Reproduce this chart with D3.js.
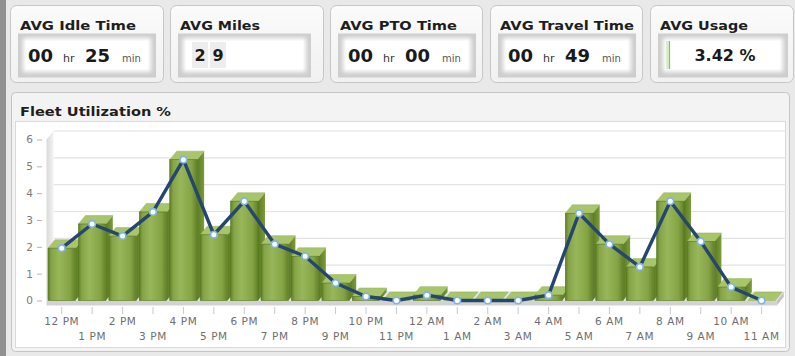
<!DOCTYPE html>
<html>
<head>
<meta charset="utf-8">
<script src="https://cdn.jsdelivr.net/npm/d3@7"></script>
<style>
  html, body { margin: 0; padding: 0; background: #e9e9e9; }
  svg { display: block; font-family: "DejaVu Sans", Verdana, sans-serif; }
</style>
</head>
<body>
<svg id="dash" width="795" height="356"></svg>
<script>
// ---- data ----
const hours = ["12 PM","1 PM","2 PM","3 PM","4 PM","5 PM","6 PM","7 PM","8 PM","9 PM","10 PM","11 PM",
               "12 AM","1 AM","2 AM","3 AM","4 AM","5 AM","6 AM","7 AM","8 AM","9 AM","10 AM","11 AM"];
const utilization = [1.95, 2.85, 2.4, 3.3, 5.25, 2.45, 3.7, 2.1, 1.65, 0.65, 0.15, 0,
                     0.2, 0, 0, 0, 0.2, 3.25, 2.1, 1.25, 3.7, 2.2, 0.5, 0];
const yTicks = [0, 1, 2, 3, 4, 5, 6];

const kpiTitles = ["AVG Idle Time", "AVG Miles", "AVG PTO Time", "AVG Travel Time", "AVG Usage"];
const kpiHours = [0, null, 0, 0, null];
const kpiMinutes = [25, null, 0, 49, null];
const avgMiles = 29;
const avgUsage = 3.42;

// ---- setup ----
const svg = d3.select("#dash");
const defs = svg.append("defs");
defs.append("filter").attr("id", "soft").attr("x", "-20%").attr("y", "-40%").attr("width", "140%").attr("height", "180%")
  .append("feGaussianBlur").attr("stdDeviation", 2.2);

const fg = defs.append("linearGradient").attr("id", "barFront").attr("x1", 0).attr("x2", 1).attr("y1", 0).attr("y2", 0);
[[0, "#5f7f27"], [0.12, "#84a446"], [0.4, "#98b75a"], [0.8, "#84a343"], [1, "#62822b"]]
  .forEach(([o, c]) => fg.append("stop").attr("offset", o).attr("stop-color", c));
const sg = defs.append("linearGradient").attr("id", "barSide").attr("x1", 0).attr("x2", 1).attr("y1", 0).attr("y2", 0);
[[0, "#5b7b20"], [1, "#7c9b3a"]].forEach(([o, c]) => sg.append("stop").attr("offset", o).attr("stop-color", c));
const wg = defs.append("linearGradient").attr("id", "wall").attr("x1", 0).attr("x2", 1);
[[0, "#d9d9d9"], [1, "#f3f3f3"]].forEach(([o, c]) => wg.append("stop").attr("offset", o).attr("stop-color", c));
const cg = defs.append("linearGradient").attr("id", "card").attr("x1", 0).attr("x2", 0).attr("y1", 0).attr("y2", 1);
[[0, "#fbfbfb"], [1, "#f1f1f1"]].forEach(([o, c]) => cg.append("stop").attr("offset", o).attr("stop-color", c));

// left dark frame strip
svg.append("rect").attr("x", 0).attr("y", 0).attr("width", 6).attr("height", 356).attr("fill", "#919191");

// ---- KPI cards ----
const cardX = [10, 170, 330, 490, 650];
const cardW = [153, 153, 152, 152, 143];
const titleW = [116, 80, 117, 134, 88];

kpiTitles.forEach((t, i) => {
  const g = svg.append("g").attr("transform", `translate(${cardX[i]},5)`);
  g.append("rect").attr("x", 0.5).attr("y", 0.5).attr("width", cardW[i]).attr("height", 77).attr("rx", 6)
    .attr("fill", "url(#card)").attr("stroke", "#c6c6c6");
  g.append("text").attr("x", 10).attr("y", 24.5).attr("font-size", 13).attr("font-weight", "bold")
    .attr("fill", "#1e1e1e").attr("textLength", titleW[i]).attr("lengthAdjust", "spacingAndGlyphs").text(t);
  // inset value field
  const bw = i === 4 ? 130 : (i === 1 ? 133 : 138);
  const bx = 8;
  g.append("rect").attr("x", bx).attr("y", 28.5).attr("width", bw).attr("height", 44).attr("fill", "#cdcdcd");
  g.append("rect").attr("x", bx + 5).attr("y", 33).attr("width", bw - 10).attr("height", 34)
    .attr("fill", "#ffffff").attr("filter", "url(#soft)");
  g.append("rect").attr("x", bx + 8).attr("y", 36).attr("width", bw - 16).attr("height", 28).attr("fill", "#ffffff");

  if (kpiHours[i] !== null) {
    const v = g.append("text").attr("x", bx + 10).attr("y", 56.5).attr("fill", "#1a1a1a");
    v.append("tspan").attr("font-size", 18).attr("font-weight", "bold").text(d3.format("02d")(kpiHours[i]));
    v.append("tspan").attr("x", bx + 45).attr("font-size", 11).attr("fill", "#333").text("hr");
    v.append("tspan").attr("x", bx + 67).attr("font-size", 18).attr("font-weight", "bold").text(d3.format("02d")(kpiMinutes[i]));
    v.append("tspan").attr("x", bx + 104).attr("font-size", 10).attr("fill", "#555").text("min");
  } else if (i === 1) {
    // digit cells
    String(avgMiles).split("").forEach((d, k) => {
      g.append("rect").attr("x", bx + 14 + k * 18).attr("y", 37).attr("width", 16).attr("height", 26)
        .attr("fill", "#ededed");
      g.append("text").attr("x", bx + 22 + k * 18).attr("y", 56).attr("text-anchor", "middle")
        .attr("font-size", 16).attr("font-weight", "bold").attr("fill", "#1a1a1a").text(d);
    });
  } else {
    // usage progress and value
    const inner = bw - 16;
    g.append("rect").attr("x", bx + 8).attr("y", 36).attr("width", inner * avgUsage / 100).attr("height", 28)
      .attr("fill", "#dbeccb");
    g.append("rect").attr("x", bx + 8 + inner * avgUsage / 100 - 1).attr("y", 36).attr("width", 1.2).attr("height", 28)
      .attr("fill", "#8cc152");
    g.append("text").attr("x", bx + bw / 2 + 2).attr("y", 56).attr("text-anchor", "middle")
      .attr("font-size", 16).attr("font-weight", "bold").attr("fill", "#1a1a1a")
      .text(d3.format(".2f")(avgUsage) + " %");
  }
});

// ---- chart panel ----
svg.append("rect").attr("x", 11.5).attr("y", 92.5).attr("width", 778).attr("height", 259).attr("rx", 4)
  .attr("fill", "#f3f3f3").attr("stroke", "#c4c4c4");
svg.append("text").attr("x", 20).attr("y", 115.5).attr("font-size", 13).attr("font-weight", "bold")
  .attr("fill", "#1e1e1e").attr("textLength", 151).attr("lengthAdjust", "spacingAndGlyphs").text("Fleet Utilization %");
svg.append("rect").attr("x", 15.5).attr("y", 121.5).attr("width", 770).attr("height", 226)
  .attr("fill", "#ffffff").attr("stroke", "#dadada");

// scales
const x = d3.scaleBand().domain(hours).range([46.5, 776.8]).padding(0);
const y = d3.scaleLinear().domain([0, 6]).range([300.5, 139.5]);
const dx = 7, dy = 8.5;
const x0 = x.range()[0], x1 = x.range()[1];

// back wall gridlines
const plot = svg.append("g");
plot.selectAll("line.grid").data(yTicks).join("line").attr("class", "grid")
  .attr("x1", x0 + dx).attr("x2", x1 + dx + 2)
  .attr("y1", d => y(d) - dy).attr("y2", d => y(d) - dy)
  .attr("stroke", "#e2e2e2").attr("stroke-width", 1.2);

// left side wall
plot.append("path")
  .attr("d", `M${x0},${y(0)} L${x0},${y(6)} L${x0 + dx},${y(6) - dy} L${x0 + dx},${y(0) - dy} Z`)
  .attr("fill", "url(#wall)");

// floor slab
plot.append("path")
  .attr("d", `M${x0},${y(0)} L${x0 + dx},${y(0) - dy} L${x1 + dx},${y(0) - dy} L${x1},${y(0)} Z`)
  .attr("fill", "#e6e6e6");
plot.append("rect").attr("x", x0).attr("y", y(0)).attr("width", x1 - x0).attr("height", 5).attr("fill", "#d2d2d2");
plot.append("path")
  .attr("d", `M${x1},${y(0)} L${x1 + dx},${y(0) - dy} L${x1 + dx},${y(0) - dy + 5} L${x1},${y(0) + 5} Z`)
  .attr("fill", "#c4c4c4");

// 3D columns, left to right so nearer faces overlap previous side faces
const bw = x.bandwidth() * 0.9;
const bars = plot.selectAll("g.bar").data(utilization).join("g").attr("class", "bar");
bars.each(function (v, i) {
  const g = d3.select(this);
  const cx = x(hours[i]) + x.bandwidth() / 2;
  const l = cx - bw / 2, r = cx + bw / 2;
  const top = y(v), base = y(0);
  g.append("path")
    .attr("d", `M${r},${top} L${r + dx},${top - dy} L${r + dx},${base - dy} L${r},${base} Z`)
    .attr("fill", "url(#barSide)");
  g.append("path")
    .attr("d", `M${l},${top} L${l + dx},${top - dy} L${r + dx},${top - dy} L${r},${top} Z`)
    .attr("fill", "#a9c56c").attr("stroke", "#93b256").attr("stroke-width", 0.5);
  g.append("rect").attr("x", l).attr("y", top).attr("width", bw).attr("height", base - top)
    .attr("fill", "url(#barFront)").attr("stroke", "#56761f").attr("stroke-width", 0.6);
});

// axes
const yAxis = d3.axisLeft(y).tickValues(yTicks).tickSize(5).tickPadding(4).tickFormat(d3.format("d"));
const ya = svg.append("g").attr("transform", "translate(42,0)").call(yAxis);
ya.select(".domain").remove();
ya.selectAll(".tick line").attr("stroke", "#b5b5b5");
ya.selectAll(".tick text").attr("fill", "#7a7a7a").attr("font-size", 10.5).attr("font-family", "DejaVu Sans, sans-serif");

const xAxis = d3.axisBottom(x).tickSize(7).tickSizeOuter(0);
const xa = svg.append("g").attr("transform", "translate(0,307)").call(xAxis);
xa.select(".domain").remove();
xa.selectAll(".tick line").attr("stroke", "#c8c8c8");
xa.selectAll(".tick text")
  .attr("fill", "#6e6e6e").attr("font-size", 10.5).attr("letter-spacing", 0.6)
  .attr("font-family", "DejaVu Sans, sans-serif")
  .attr("dy", 0).attr("y", (d, i) => i % 2 === 0 ? 17.5 : 32.5);

// utilization line with markers
const pts = utilization.map((v, i) => [x(hours[i]) + x.bandwidth() / 2, y(v)]);
svg.append("path").datum(pts).attr("d", d3.line())
  .attr("fill", "none").attr("stroke", "#24466f").attr("stroke-width", 3.4).attr("stroke-linejoin", "round");
svg.selectAll("circle.pt").data(pts).join("circle").attr("class", "pt")
  .attr("cx", d => d[0]).attr("cy", d => d[1]).attr("r", 3.3)
  .attr("fill", "#ffffff").attr("stroke", "#7fb4e0").attr("stroke-width", 1.6);
</script>
</body>
</html>
